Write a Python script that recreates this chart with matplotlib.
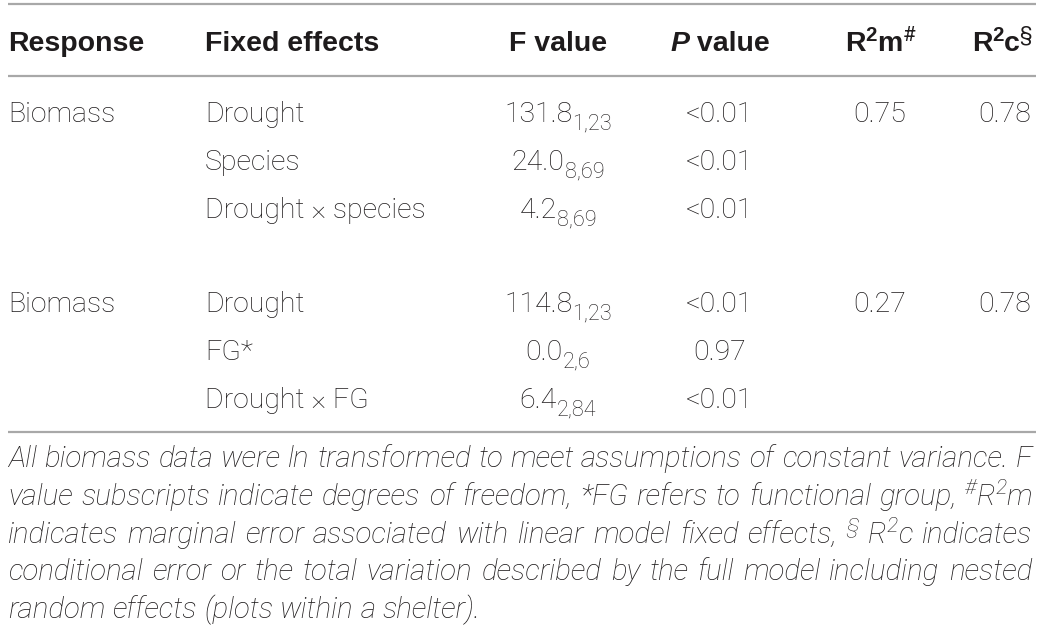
import matplotlib
matplotlib.use('Agg')
import matplotlib.pyplot as plt
from matplotlib import font_manager

# ---- table contents -------------------------------------------------------
responses = ['Biomass', 'Biomass']
effects = [['Drought', 'Species', 'Drought \u00d7 species'],
           ['Drought', 'FG*', 'Drought \u00d7 FG']]
f_values = [['131.8', '24.0', '4.2'],
            ['114.8', '0.0', '6.4']]
f_df = [['1,23', '8,69', '8,69'],
        ['1,23', '2,6', '2,84']]
p_values = [['<0.01', '<0.01', '<0.01'],
            ['<0.01', '0.97', '<0.01']]
r2m = ['0.75', '0.27']
r2c = ['0.78', '0.78']

note_lines = [
    'All biomass data were ln transformed to meet assumptions of constant variance. F',
    'value subscripts indicate degrees of freedom, *FG refers to functional group, {#R2m}',
    'indicates marginal error associated with linear model fixed effects, {\u00a7} {R2c} indicates',
    'conditional error or the total variation described by the full model including nested',
    'random effects (plots within a shelter).',
]

# ---- fonts ----------------------------------------------------------------
names = {f.name for f in font_manager.fontManager.ttflist}


def pick(*cands):
    for c in cands:
        if c in names:
            return c
    return 'DejaVu Sans'


head_font = pick('Liberation Sans', 'Arial', 'DejaVu Sans')
body_font = pick('Roboto', 'Liberation Sans', 'DejaVu Sans')
body_weight = 'light'

W, H = 1044, 630
fig = plt.figure(figsize=(W / 100, H / 100), dpi=100)
ax = fig.add_axes([0, 0, 1, 1])
ax.set_xlim(0, W)
ax.set_ylim(H, 0)
ax.axis('off')
renderer = fig.canvas.get_renderer()

TXT = '#1e1b1c'
LINE = '#a8a8a8'
SIZE = 20.5
PX = 100 / 72
SCALE = {'n': 1.0, 'sub': 0.76, 'sup': 0.72}
RISE = {'n': 0, 'sub': -0.27, 'sup': 0.36}


def measure(s, size, **kw):
    t = ax.text(0, 0, s, fontsize=size, **kw)
    w = t.get_window_extent(renderer).width
    t.remove()
    return w


def draw_runs(x, y, runs, size, ha='left', **kw):
    # runs: list of (text, kind, extra style); kind is n / sub / sup
    parts = []
    for r in runs:
        s, kind = r[0], r[1]
        style = dict(kw)
        if len(r) > 2:
            style.update(r[2])
        sz = size * SCALE[kind]
        rise = RISE[kind] * size * PX
        w = measure(s, sz, **style)
        parts.append((s, sz, rise, style, w))
    total = sum(p[4] for p in parts)
    if ha == 'center':
        x -= total / 2
    elif ha == 'right':
        x -= total
    for s, sz, rise, style, w in parts:
        ax.text(x, y - rise, s, fontsize=sz, va='baseline', ha='left', **style)
        x += w
    return total


# ---- rules ----------------------------------------------------------------
for yy in (4, 76, 432):
    ax.plot([8, 1036], [yy, yy], color=LINE, lw=1.6, solid_capstyle='butt')

# ---- header ---------------------------------------------------------------
hb = 51
hkw = dict(family=head_font, color=TXT, fontweight='bold')
light = {'fontweight': 'normal', 'family': body_font}
col_x = {'resp': 8, 'eff': 205, 'f': 558, 'p': 720, 'm': 880, 'c': 1032}
draw_runs(col_x['resp'], hb, [('Response', 'n')], SIZE, **hkw)
draw_runs(col_x['eff'], hb, [('Fixed effects', 'n')], SIZE, **hkw)
draw_runs(col_x['f'], hb, [('F value', 'n')], SIZE, ha='center', **hkw)
draw_runs(col_x['p'], hb, [('P', 'n', {'style': 'italic'}), (' value', 'n')], SIZE, ha='center', **hkw)
draw_runs(col_x['m'], hb, [('R', 'n'), ('2', 'sup'), ('m', 'n'), ('#', 'sup', light)],
          SIZE, ha='center', **hkw)
draw_runs(col_x['c'], hb, [('R', 'n'), ('2', 'sup'), ('c', 'n'), ('\u00a7', 'sup', light)],
          SIZE, ha='right', **hkw)

# ---- body -----------------------------------------------------------------
bkw = dict(family=body_font, color=TXT, fontweight=body_weight)
block_base = [122, 312]
row_step = 48
for b in range(len(responses)):
    y0 = block_base[b]
    draw_runs(col_x['resp'], y0, [(responses[b], 'n')], SIZE, **bkw)
    draw_runs(col_x['m'], y0, [(r2m[b], 'n')], SIZE, ha='center', **bkw)
    draw_runs(col_x['c'] - 1, y0, [(r2c[b], 'n')], SIZE, ha='right', **bkw)
    for i in range(len(effects[b])):
        y = y0 + i * row_step
        draw_runs(col_x['eff'], y, [(effects[b][i], 'n')], SIZE, **bkw)
        draw_runs(col_x['f'], y, [(f_values[b][i], 'n'), (f_df[b][i], 'sub')],
                  SIZE, ha='center', **bkw)
        draw_runs(col_x['p'], y, [(p_values[b][i], 'n')], SIZE, ha='center', **bkw)

# ---- footnote (justified) -------------------------------------------------
nkw = dict(family=body_font, color=TXT, style='italic', fontweight=body_weight)
special = {
    '{#R2m}': [('#', 'sup'), ('R', 'n'), ('2', 'sup'), ('m', 'n')],
    '{R2c}': [('R', 'n'), ('2', 'sup'), ('c', 'n')],
    '{\u00a7}': [('\u00a7', 'sup')],
}


def word_runs(w):
    return special.get(w, [(w, 'n')])


def runs_width(runs, size):
    return sum(measure(r[0], size * SCALE[r[1]], **nkw) for r in runs)


def space_width(size):
    return measure('a a', size, **nkw) - 2 * measure('a', size, **nkw)


left, right = 8, 1032
nsize = SIZE
longest = max(sum(runs_width(word_runs(w), nsize) for w in ln.split()) +
              (len(ln.split()) - 1) * space_width(nsize)
              for ln in note_lines)
nsize *= (right - left) / longest * 0.995

note_base = [467, 505, 543, 580, 618]
for k, ln in enumerate(note_lines):
    words = ln.split()
    widths = [runs_width(word_runs(w), nsize) for w in words]
    if k < len(note_lines) - 1:
        gap = (right - left - sum(widths)) / (len(words) - 1)
    else:
        gap = space_width(nsize)
    x = left
    for w, wd in zip(words, widths):
        draw_runs(x, note_base[k], word_runs(w), nsize, **nkw)
        x += wd + gap

fig.savefig('out.png', dpi=100)
